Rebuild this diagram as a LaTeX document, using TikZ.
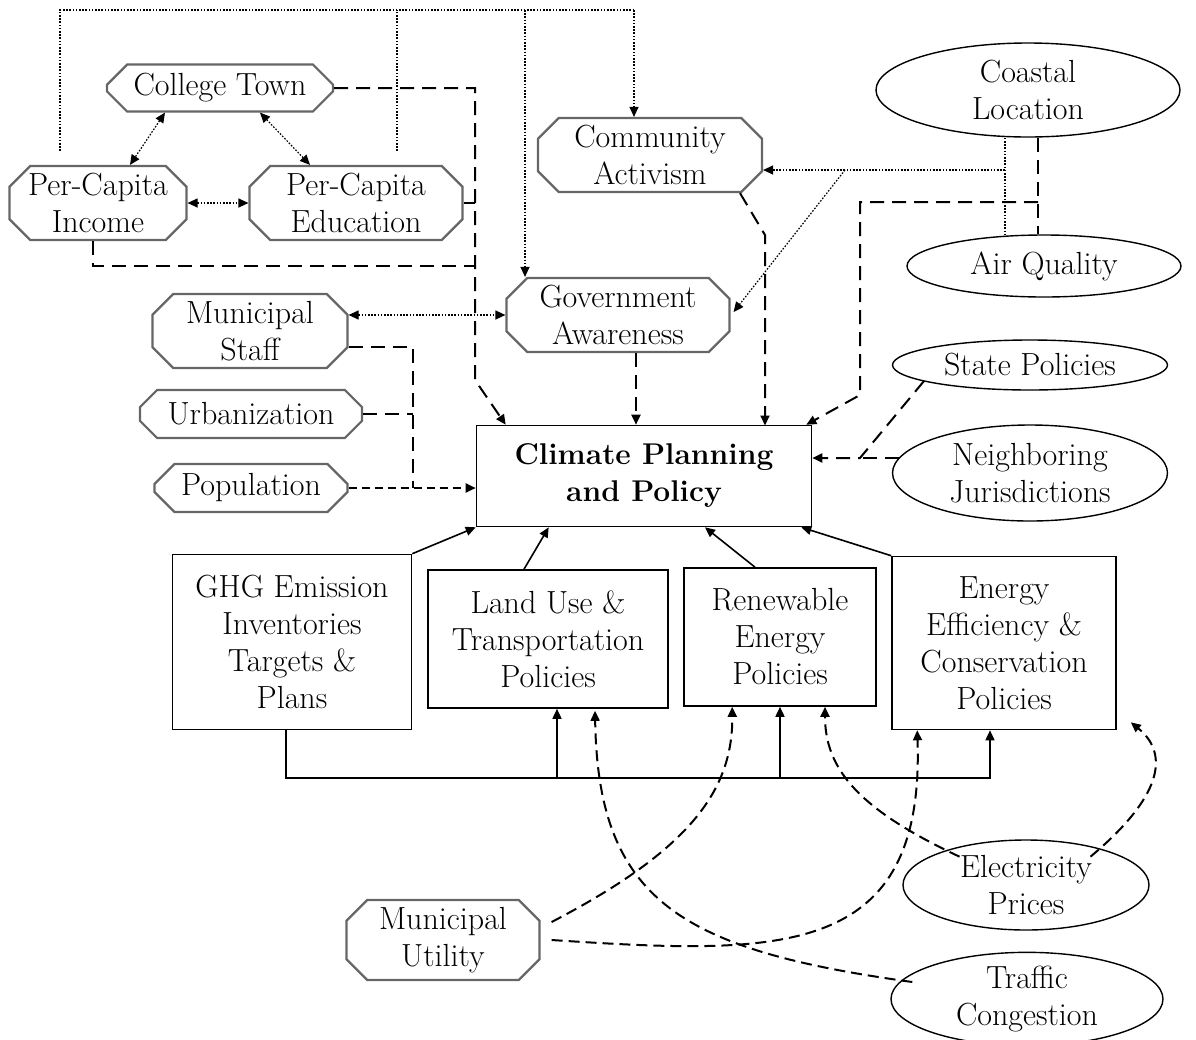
\documentclass[tikz,border=0pt]{standalone}
\usetikzlibrary{shapes.misc,shapes.geometric,arrows.meta,calc}
\begin{document}
\begin{tikzpicture}[x=0.5pt,y=-0.5pt,
  every node/.style={font=\fontsize{16}{18.5}\selectfont, align=center, inner sep=0pt},
  oct/.style={chamfered rectangle, chamfered rectangle xsep=7.5pt, draw=black!60, line width=1.1pt},
  box/.style={rectangle, draw=black, line width=0.8pt},
  ell/.style={ellipse, draw=black, line width=0.7pt},
  arr/.style={-{Triangle[length=5pt,width=4.5pt]}},
  barr/.style={{Triangle[length=5pt,width=4.5pt]}-{Triangle[length=5pt,width=4.5pt]}},
  dot/.style={line width=0.6pt, dash pattern=on 0.8pt off 0.8pt},
  dsh/.style={line width=1pt, dash pattern=on 7pt off 4pt},
  dshs/.style={line width=1pt, dash pattern=on 4pt off 2.5pt},
  dshc/.style={line width=1pt, dash pattern=on 5.5pt off 3pt},
  sol/.style={line width=0.8pt}]
\useasboundingbox (0,0) rectangle (1196,1040);

% octagonal nodes
\node[oct, minimum width=113pt, minimum height=23.5pt] (ct) at (220,88) {College Town};
\node[oct, minimum width=88.5pt, minimum height=37pt] (inc) at (98,203) {Per-Capita\\Income};
\node[oct, minimum width=106.5pt, minimum height=37pt] (edu) at (356,203) {Per-Capita\\Education};
\node[oct, minimum width=112pt, minimum height=37pt] (ca) at (650,155) {Community\\Activism};
\node[oct, minimum width=111.5pt, minimum height=37pt] (ga) at (618,315) {Government\\Awareness};
\node[oct, minimum width=97.5pt, minimum height=37pt] (ms) at (250,331) {Municipal\\Staff};
\node[oct, minimum width=111pt, minimum height=24pt] (urb) at (251,414) {Urbanization};
\node[oct, minimum width=96.5pt, minimum height=24pt] (pop) at (251,488) {Population};
\node[oct, minimum width=96.5pt, minimum height=40pt] (mu) at (443,940) {Municipal\\Utility};

% boxes
\node[box, minimum width=167.5pt, minimum height=50.5pt, font=\bfseries\fontsize{15}{18.5}\selectfont] (cpp) at (644,476) {Climate Planning\\and Policy};
\node[box, minimum width=119.5pt, minimum height=87.5pt] (ghg) at (292,642) {GHG Emission\\Inventories\\Targets \&\\Plans};
\node[box, minimum width=120pt, minimum height=69pt] (lu) at (548,639) {Land Use \&\\Transportation\\Policies};
\node[box, minimum width=96pt, minimum height=69pt] (re) at (780,637) {Renewable\\Energy\\Policies};
\node[box, minimum width=112pt, minimum height=86.5pt] (ee) at (1004,643) {Energy\\Efficiency \&\\Conservation\\Policies};

% ellipses
\node[ell, minimum width=152pt, minimum height=47pt] (cl) at (1028,90) {Coastal\\Location};
\node[ell, minimum width=137pt, minimum height=31pt] (aq) at (1044,266) {Air Quality};
\node[ell, minimum width=137.5pt, minimum height=25pt] (sp) at (1030,365) {State Policies};
\node[ell, minimum width=137.5pt, minimum height=48pt] (nj) at (1030,473) {Neighboring\\Jurisdictions};
\node[ell, minimum width=123pt, minimum height=45pt] (ep) at (1026,885) {Electricity\\Prices};
\node[ell, minimum width=136pt, minimum height=44pt] (tc) at (1027,999) {Traffic\\Congestion};

% helper coordinates
\coordinate (x634) at (634,0);
\coordinate (x525) at (525,0);

% top dotted network
\draw[dot] ($(inc.north)+(-38,-14)$) -- (60,10) -- (634,10);
\draw[dot] ($(edu.north)+(41,-14)$) -- (397,10);
\draw[dot, arr] (634,10) -- (x634 |- ca.north);
\draw[dot, arr] (525,10) -- (x525 |- ga.north);

% bidirectional dotted
\draw[dot, barr] ($(ct.south)+(-55,0)$) -- ($(inc.north)+(32,0)$);
\draw[dot, barr] ($(ct.south)+(40,0)$) -- ($(edu.north)+(-46,0)$);
\draw[dot, barr] (inc.east) -- (edu.west);
\draw[dot, barr] ($(ms.east)+(0,-16)$) -- (ga.west);

% dashed merging into climate (left top)
\draw[dsh, arr] (ct.east) -- (475,88) -- (475,380) -- ($(cpp.north west)+(30,0)$);
\draw[dsh] (edu.east) -- (475,203);
\draw[dsh] ($(inc.south)+(-5,0)$) -- (93,266) -- (475,266);

% municipal staff, urbanization, population
\draw[dsh] ($(ms.east)+(0,16)$) -- (413,347) -- (413,488);
\draw[dsh] (urb.east) -- (413,414);
\draw[dshs, arr] (pop.east) -- (cpp.west |- pop.east);

% government awareness, community activism
\coordinate (g1) at ($(ga.south)+(18,0)$);
\draw[dsh, arr] (g1) -- (g1 |- cpp.north);
\draw[dsh, arr] ($(ca.south)+(90,0)$) -- (765,235) -- (765,425.5);

% coastal location / air quality
\draw[dot] ($(cl.south)+(-23,0)$) -- ($(aq.north)+(-39,1)$);
\draw[dot, arr] (1005,170) -- (ca.east |- 0,170);
\draw[dot, arr] (845,170) -- ($(ga.east)+(3,-3)$);
\draw[dsh] ($(cl.south)+(10,0)$) -- ($(aq.north)+(-6,0)$);
\draw[dsh, arr] (1038,202) -- (860,202) -- (860,395) -- ($(cpp.north east)+(-6,0)$);

% state policies / neighboring
\draw[dsh, arr] ($(sp.center)+(-106,16)$) -- (860,458) -- (cpp.east |- 0,458);
\draw[dsh] ($(nj.center)+(-131,-15)$) -- (860,458);

% bottom solid arrows to climate
\draw[sol, arr] (ghg.north east) -- (cpp.south west);
\draw[sol, arr] ($(lu.north)+(-24,0)$) -- ($(cpp.south west)+(73,0)$);
\draw[sol, arr] ($(re.north)+(-25,0)$) -- ($(cpp.south)+(61,0)$);
\draw[sol, arr] (ee.north west) -- ($(cpp.south east)+(-11,0)$);

% bottom bracket
\coordinate (bl) at (0,778);
\coordinate (gb) at ($(ghg.south)+(-6,0)$);
\coordinate (eb) at ($(ee.south)+(-14,0)$);
\coordinate (lb) at ($(lu.south)+(9,0)$);
\coordinate (rb) at (re.south);
\draw[sol, arr] (gb) -- (gb |- bl) -- (eb |- bl) -- (eb);
\draw[sol, arr] (lb |- bl) -- (lb);
\draw[sol, arr] (rb |- bl) -- (rb);

% dashed curves at the bottom
\draw[dshc, arr] ($(mu.east)+(11,-18)$) .. controls (690,850) and (733,790) .. ($(re.south west)+(49,0)$);
\draw[dshc, arr] ($(mu.east)+(11,0)$) .. controls (780,955) and (925,960) .. ($(ee.south west)+(26,0)$);
\draw[dshc, arr] ($(tc.west)+(22,-17)$) .. controls (680,950) and (598,900) .. ($(lu.south)+(47,2)$);
\draw[dshc, arr] ($(ep.north west)+(21,4)$) .. controls (860,810) and (825,770) .. ($(re.south)+(45,0)$);
\draw[dshc, arr] ($(ep.north east)+(-23,4)$) .. controls (1170,790) and (1165,750) .. ($(ee.south east)+(14,-8)$);
\end{tikzpicture}
\end{document}
